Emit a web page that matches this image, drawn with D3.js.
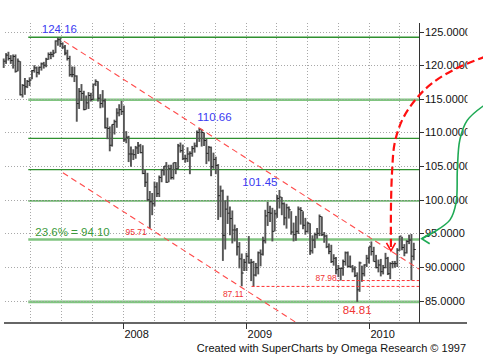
<!DOCTYPE html>
<html><head><meta charset="utf-8">
<script src="https://cdn.jsdelivr.net/npm/d3@7/dist/d3.min.js"></script>
<style>html,body{margin:0;padding:0;background:#fff;}svg{display:block;font-family:"Liberation Sans",Arial,sans-serif;}</style>
</head><body>
<svg id="chart" width="483" height="360"></svg>
<script>
// ---------------- data (weekly USD/JPY bars) ----------------
const firstWeek = "2007-01-12";
const highs = [
121.0,121.8,122.0,121.5,121.6,121.6,121.0,120.6,117.2,118.1,117.8,118.2,119.3,120.0,119.8,119.8,120.4,120.5,121.1,121.9,122.0,122.3,123.7,124.16,124.1,123.4,123.0,122.3,121.4,119.8,119.8,118.5,116.6,117.2,116.2,115.5,116.0,115.9,117.2,117.9,117.6,115.7,116.3,115.0,112.2,110.9,111.2,111.9,113.6,114.2,114.7,
114.0,110.2,109.5,107.9,107.5,108.0,108.6,108.3,108.1,104.5,104.0,101.3,101.0,102.7,102.6,103.6,104.6,105.0,105.6,105.2,105.2,105.5,105.6,108.3,108.5,108.2,106.7,107.8,107.2,108.0,108.5,110.3,110.66,110.5,110.0,109.1,108.0,107.9,107.0,106.4,105.3,102.1,101.5,99.9,100.6,99.0,98.4,96.3,95.8,93.7,92.0,91.2,
92.1,94.6,91.2,90.9,90.6,92.3,92.6,94.5,98.5,99.7,99.1,98.8,98.5,100.7,101.45,100.4,99.6,99.4,99.0,98.3,96.6,97.6,99.0,98.9,98.3,97.3,96.7,96.5,94.7,95.1,95.8,97.8,97.5,95.2,94.8,93.5,93.3,91.9,91.5,90.3,89.9,91.1,92.3,92.3,91.7,90.3,90.1,89.2,90.8,90.2,90.4,91.8,
93.0,93.8,93.0,91.8,91.1,91.2,90.3,92.1,91.5,90.7,90.9,90.9,92.8,94.6,94.5,93.4,94.0,94.8,94.9,93.6];
const lows = [
119.6,120.2,120.7,120.2,119.5,118.9,119.1,115.5,115.2,115.6,116.6,116.9,117.9,118.9,118.2,118.6,119.2,119.5,119.7,120.8,120.9,121.2,121.8,122.9,122.7,122.4,121.5,120.7,118.3,118.2,117.5,111.6,113.5,114.7,113.3,113.4,113.5,114.6,114.8,116.9,114.6,113.6,113.7,110.6,109.0,107.2,107.9,109.7,110.7,112.4,112.6,
108.6,108.4,105.6,104.9,105.9,106.1,106.8,106.9,103.8,101.9,99.8,95.71,97.7,99.0,100.4,100.4,102.6,103.6,102.5,102.6,103.0,103.0,103.8,104.5,107.0,105.9,105.5,105.6,103.8,106.4,107.0,107.8,108.6,107.9,108.0,105.3,105.7,103.5,104.6,103.8,97.0,97.4,90.9,92.6,96.4,94.7,93.5,93.8,91.7,89.8,87.13,89.4,
89.4,90.5,87.9,87.11,88.6,88.9,90.1,91.7,93.5,96.1,96.7,93.8,95.3,97.3,98.7,97.7,96.2,95.7,97.2,94.8,93.8,93.9,94.9,96.3,95.6,94.8,95.1,91.8,92.0,92.8,94.2,94.6,94.6,93.6,92.8,91.9,90.6,90.2,88.9,88.5,87.98,88.7,90.2,89.9,89.9,89.2,88.5,84.81,86.3,87.8,88.6,90.0,
90.5,91.7,90.8,89.8,89.2,88.6,88.9,89.8,88.8,88.2,89.8,89.9,90.0,92.4,92.5,91.6,92.0,93.4,88.0,91.0];
const closes = [
120.6,121.5,121.0,120.7,121.3,119.1,120.6,115.6,117.0,116.8,117.6,117.8,119.2,119.6,118.9,119.7,120.2,120.0,120.9,121.6,121.6,121.8,123.6,123.8,123.2,122.7,121.8,121.0,118.6,118.6,118.4,114.3,116.1,115.8,113.4,114.4,115.5,114.9,117.2,117.6,115.1,114.3,114.7,110.7,110.6,108.1,111.2,111.6,112.9,113.4,113.1,
108.9,109.3,106.8,106.8,106.7,107.7,108.0,107.0,103.9,102.6,100.0,99.7,99.4,101.9,100.9,103.3,104.4,105.0,102.6,104.6,103.3,105.5,104.6,108.0,107.3,106.1,106.1,106.8,106.9,107.6,108.0,110.0,110.5,110.0,108.8,106.9,107.8,104.9,106.0,105.1,100.6,101.3,94.7,98.6,98.0,97.2,95.5,95.5,93.0,91.2,89.1,90.7,
91.6,90.6,90.7,88.8,89.9,92.1,91.9,93.9,97.6,98.1,98.0,95.3,97.9,100.2,100.4,99.4,97.3,98.8,98.5,95.2,94.8,95.3,98.6,98.4,96.2,95.3,96.5,92.4,94.0,94.8,95.0,97.5,94.8,94.6,93.0,92.3,90.8,91.3,89.6,89.8,89.8,90.8,92.1,90.1,90.0,89.7,88.7,86.6,90.6,89.0,90.3,91.3,
93.0,92.3,90.8,89.9,90.3,89.3,89.9,91.3,89.0,90.5,90.5,90.5,92.5,94.6,92.9,92.1,93.8,94.0,91.6,92.6];

const yTickValues = [125,120,115,110,105,100,95,90,85];
const yearTicks = ["2008","2009","2010"];

// Fibonacci retracement between the swing high and the swing low
const swingHigh = 124.16, swingLow = 84.81;
const fibRatios = [1, 0.764, 0.618, 0.5, 0.382, 0.236, 0];
const fibMajor = [0.764, 0.236, 0];
const fibStartDate = "2007-03-26";
const fibLabelRatio = 0.236;

// pivots used for labels / trend channel
const peakLabels = [
  {date:"2007-06-22", value:124.16, anchor:"middle", dx:1.5, dy:-4},
  {date:"2008-08-15", value:110.66, anchor:"start",  dx:-2,  dy:-7},
  {date:"2009-04-10", value:101.45, anchor:"end",    dx:-2,  dy:-4}
];
const lowLabels = [
  {date:"2008-03-21", value:95.71, anchor:"end",    dx:-3,  dy:6.5, size:8.5},
  {date:"2009-01-23", value:87.11, anchor:"end",    dx:-10, dy:11,  size:8.5},
  {date:"2009-10-09", value:87.98, anchor:"end",    dx:-4,  dy:0,   size:8.5},
  {date:"2009-11-27", value:84.81, anchor:"middle", dx:0,   dy:12.5,size:11.5}
];
const supportLines = [ {date:"2009-01-23", value:87.11, dx:-2}, {date:"2009-10-09", value:87.98, dx:-4} ];
const channelTop = [ {date:"2007-06-22", value:124.16}, {date:"2008-08-15", value:110.66} ];
const channelBottomPivot = {date:"2008-03-21", value:95.71};

// hand-drawn annotation arrows, as [year fraction, price]
const redArrow = [[2010.95,121.3],[2010.72,119.6],[2010.52,117.4],[2010.38,114.9],[2010.27,111.8],[2010.21,108.4],[2010.19,104.5],[2010.18,99.0],[2010.18,92.4]];
const greenArrow = [[2010.95,114.2],[2010.80,111.8],[2010.74,108.9],[2010.72,104.5],[2010.71,99.6],[2010.66,97.0],[2010.53,95.2],[2010.43,94.2]];

// ---------------- drawing ----------------
const svg = d3.select("#chart");
const parse = d3.timeParse("%Y-%m-%d");
const pLeft = 4, pRight = 419, pTop = 23, pBottom = 323;

const x = d3.scaleTime().domain([new Date(2007,0,1), new Date(2010,0,1)]).range([0, 369]);
const y = d3.scaleLinear().domain([85, 125]).range([300.6, 31.6]);
const yearMs = 365.25*24*3600*1000;
const xf = t => x(new Date(new Date(2008,0,1).getTime() + (t-2008)*yearMs));

const start = parse(firstWeek);
const bars = highs.map((h,i)=>({date:d3.timeWeek.offset(start,i), high:h, low:lows[i], close:closes[i]}));

// vertical dotted grid (quarters)
const quarters = d3.timeMonth.every(3).range(new Date(2007,3,1), new Date(2010,4,2));
svg.append("g").selectAll("line").data(quarters).join("line")
  .attr("x1", d=>Math.round(x(d))+0.5).attr("x2", d=>Math.round(x(d))+0.5)
  .attr("y1", pTop).attr("y2", pBottom-1)
  .attr("stroke","#a8a8a8").attr("stroke-width",1).attr("stroke-dasharray","1,2");

// Fibonacci lines
const fibLevels = fibRatios.map(r=>({r, v: swingLow + r*(swingHigh-swingLow)}));
svg.append("g").selectAll("line").data(fibLevels).join("line")
  .attr("x1", x(parse(fibStartDate))).attr("x2", pRight)
  .attr("y1", d=>y(d.v)).attr("y2", d=>y(d.v))
  .attr("stroke", d=>fibMajor.includes(d.r) ? "#80c480" : "#2f902f")
  .attr("stroke-width", d=>fibMajor.includes(d.r) ? 2.6 : 1.3);

// horizontal dotted grid
svg.append("g").selectAll("line").data(yTickValues).join("line")
  .attr("x1", pLeft+1).attr("x2", pRight)
  .attr("y1", d=>Math.round(y(d))+0.5).attr("y2", d=>Math.round(y(d))+0.5)
  .attr("stroke","#a8a8a8").attr("stroke-width",1).attr("stroke-dasharray","1,2");

// price bars
const gb = svg.append("g");
gb.selectAll("line.hl").data(bars).join("line").attr("class","hl")
  .attr("x1", d=>x(d.date)).attr("x2", d=>x(d.date))
  .attr("y1", d=>y(d.high)).attr("y2", d=>y(d.low))
  .attr("stroke","#555").attr("stroke-width",1.9);
gb.selectAll("line.cl").data(bars).join("line").attr("class","cl")
  .attr("x1", d=>x(d.date)).attr("x2", d=>x(d.date)+2)
  .attr("y1", d=>y(d.close)).attr("y2", d=>y(d.close))
  .attr("stroke","#222").attr("stroke-width",1);

// trend channel
const p1 = [x(parse(channelTop[0].date)), y(channelTop[0].value)];
const p2 = [x(parse(channelTop[1].date)), y(channelTop[1].value)];
const slope = (p2[1]-p1[1])/(p2[0]-p1[0]);
const upX0 = p1[0]+6;
svg.append("line")
  .attr("x1", upX0).attr("y1", p1[1]+slope*(upX0-p1[0]))
  .attr("x2", pRight).attr("y2", p1[1]+slope*(pRight-p1[0]))
  .attr("stroke","#ff4a4a").attr("stroke-width",1.1).attr("stroke-dasharray","6,4");
const q = [x(parse(channelBottomPivot.date)), y(channelBottomPivot.value)];
const loX0 = upX0-1, loX1 = q[0] + (pBottom - q[1])/slope;
svg.append("line")
  .attr("x1", loX0).attr("y1", q[1]+slope*(loX0-q[0]))
  .attr("x2", loX1).attr("y2", pBottom)
  .attr("stroke","#ff4a4a").attr("stroke-width",1.1).attr("stroke-dasharray","6,4");

// support lines
svg.append("g").selectAll("line").data(supportLines).join("line")
  .attr("x1", d=>x(parse(d.date))+d.dx).attr("x2", pRight)
  .attr("y1", d=>y(d.value)).attr("y2", d=>y(d.value))
  .attr("stroke","#ff3030").attr("stroke-width",1).attr("stroke-dasharray","3,2");

// labels
svg.append("g").selectAll("text").data(peakLabels).join("text")
  .attr("x", d=>x(parse(d.date))+d.dx).attr("y", d=>y(d.value)+d.dy)
  .attr("text-anchor", d=>d.anchor).attr("fill","#3a3af2").attr("font-size","11.5px")
  .text(d=>d.value.toFixed(2));
svg.append("g").selectAll("text").data(lowLabels).join("text")
  .attr("x", d=>x(parse(d.date))+d.dx).attr("y", d=>y(d.value)+d.dy)
  .attr("text-anchor", d=>d.anchor).attr("fill","#f03434").attr("font-size", d=>d.size+"px")
  .text(d=>d.value.toFixed(2));
const fibLab = swingLow + fibLabelRatio*(swingHigh-swingLow);
svg.append("text").attr("x", x(parse(fibStartDate))+7).attr("y", y(fibLab)-3)
  .attr("fill","#3a9a3a").attr("font-size","11.5px")
  .text(`${(fibLabelRatio*100).toFixed(1)}% = ${fibLab.toFixed(2)}`);

// axes
svg.append("line").attr("x1",pLeft).attr("x2",467).attr("y1",pBottom).attr("y2",pBottom)
  .attr("stroke","#666").attr("stroke-width",2);
svg.append("line").attr("x1",pRight+0.5).attr("x2",pRight+0.5).attr("y1",pTop).attr("y2",pBottom)
  .attr("stroke","#333").attr("stroke-width",1);
svg.append("defs").append("clipPath").attr("id","lblclip").append("rect")
  .attr("x",pRight).attr("y",0).attr("width",467.5-pRight).attr("height",360);
const gy = svg.append("g").attr("clip-path","url(#lblclip)");
gy.selectAll("line").data(yTickValues).join("line")
  .attr("x1", pRight).attr("x2", pRight+5)
  .attr("y1", d=>Math.round(y(d))+0.5).attr("y2", d=>Math.round(y(d))+0.5)
  .attr("stroke","#333");
gy.selectAll("text").data(yTickValues).join("text")
  .attr("x", pRight+6).attr("y", d=>y(d)).attr("dy","0.36em")
  .attr("font-size","11px").attr("fill","#111")
  .text(d=>d3.format(".4f")(d));
const gx = svg.append("g");
gx.selectAll("line").data(yearTicks).join("line")
  .attr("x1", d=>Math.round(x(new Date(+d,0,1)))+0.5).attr("x2", d=>Math.round(x(new Date(+d,0,1)))+0.5)
  .attr("y1", pBottom).attr("y2", pBottom+6).attr("stroke","#333");
gx.selectAll("text").data(yearTicks).join("text")
  .attr("x", d=>x(new Date(+d,0,1))+1.5).attr("y", pBottom+15)
  .attr("font-size","11px").attr("fill","#111").text(d=>d);

svg.append("text").attr("x",466).attr("y",352).attr("text-anchor","end")
  .attr("font-size","11px").attr("fill","#111")
  .text("Created with SuperCharts by Omega Research \u00a9 1997");

// annotation arrows
const line = d3.line().x(d=>xf(d[0])).y(d=>y(d[1])).curve(d3.curveCatmullRom.alpha(0.5));
svg.append("path").attr("d", line(redArrow)).attr("fill","none")
  .attr("stroke","#ff1010").attr("stroke-width",2.2).attr("stroke-dasharray","8,4");
const rt = redArrow[redArrow.length-1];
svg.append("path").attr("fill","none").attr("stroke","#ff1010").attr("stroke-width",1.6)
  .attr("d", `M${xf(rt[0])-4.5},${y(rt[1])-8}L${xf(rt[0])},${y(rt[1])}L${xf(rt[0])+4.5},${y(rt[1])-8}`);
svg.append("path").attr("d", line(greenArrow)).attr("fill","none")
  .attr("stroke","#1faa55").attr("stroke-width",1.6);
const gt = greenArrow[greenArrow.length-1];
svg.append("path").attr("fill","none").attr("stroke","#1faa55").attr("stroke-width",1.6)
  .attr("d", `M${xf(gt[0])+8},${y(gt[1])-5}L${xf(gt[0])},${y(gt[1])}L${xf(gt[0])+8},${y(gt[1])+5}`);
</script>
</body></html>
